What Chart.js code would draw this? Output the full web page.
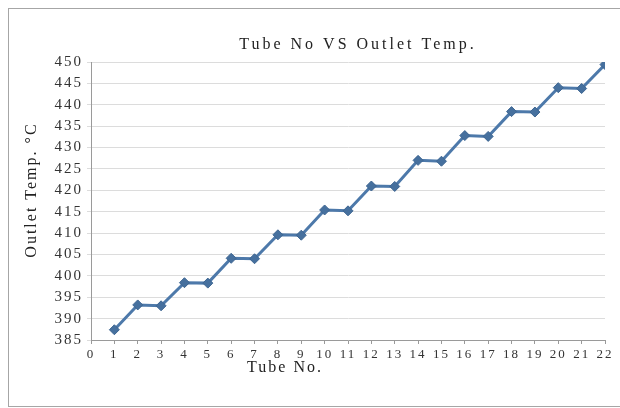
<!DOCTYPE html>
<html>
<head>
<meta charset="utf-8">
<script src="https://cdn.jsdelivr.net/npm/chart.js@4/dist/chart.umd.min.js"></script>
<style>
    html, body { margin: 0; padding: 0; background: #fff; }
    #wrap { position: relative; width: 620px; height: 408px; overflow: hidden; }
    #frame { position: absolute; left: 8px; top: 8px; width: 640px; height: 397px;
             border: 1px solid #a6a6a6; border-right: none; }
    #chart { position: absolute; left: 0; top: 0; }
</style>
</head>
<body>
<div id="wrap">
    <div id="frame"></div>
    <canvas id="chart" width="620" height="408"></canvas>
</div>
<script>
// tube numbers and outlet temperatures
const tubeNo = [1, 2, 3, 4, 5, 6, 7, 8, 9, 10, 11, 12, 13, 14, 15, 16, 17, 18, 19, 20, 21, 22];
const outletTemp = [387.4, 393.2, 393.0, 398.4, 398.3, 404.1, 404.0, 409.6, 409.5, 415.4, 415.2,
    421.0, 420.9, 427.0, 426.8, 432.8, 432.6, 438.4, 438.3, 444.0, 443.8, 449.4];

const chartTitle = "Tube No VS Outlet Temp.";
const xTitle = "Tube No.";
const yTitle = "Outlet Temp. \u00b0C";
const yMin = 385, yMax = 450, yStep = 5;
const xMin = 0, xMax = 22;

const serif = "'Liberation Serif', 'DejaVu Serif', serif";

// the original text is stretched sideways, so widen everything a little
const spacingPlugin = {
    id: "wideText",
    beforeDraw(chart) { chart.ctx.letterSpacing = "2px"; },
    afterDraw(chart) { chart.ctx.letterSpacing = "0px"; }
};

// titles drawn by hand: in the original they are not centred on the plot
const titlePlugin = {
    id: "customTitles",
    afterDraw(chart) {
        const ctx = chart.ctx;
        ctx.save();
        ctx.fillStyle = "#222";
        ctx.textAlign = "center";
        ctx.textBaseline = "middle";

        ctx.letterSpacing = "3px";
        ctx.font = "16px " + serif;
        ctx.fillText(chartTitle, 358, 45);

        ctx.letterSpacing = "2px";
        ctx.font = "16px " + serif;
        ctx.fillText(xTitle, 285, 368);

        ctx.translate(32, 190);
        ctx.rotate(-Math.PI / 2);
        ctx.fillText(yTitle, 0, 0);
        ctx.restore();
    }
};

const points = tubeNo.map((x, i) => ({ x: x, y: outletTemp[i] }));

new Chart(document.getElementById("chart").getContext("2d"), {
    type: "line",
    data: {
        datasets: [{
            label: "Outlet Temp.",
            data: points,
            borderColor: "#4d79aa",
            borderWidth: 3,
            backgroundColor: "#46709e",
            pointStyle: "rectRot",
            pointRadius: 5,
            pointBorderColor: "#3d6591",
            pointBorderWidth: 1,
            tension: 0
        }]
    },
    options: {
        responsive: false,
        animation: false,
        layout: { padding: { left: 24, right: 15, top: 62, bottom: 28 } },
        plugins: {
            legend: { display: false },
            tooltip: { enabled: false }
        },
        scales: {
            x: {
                type: "linear",
                min: xMin,
                max: xMax,
                afterFit: s => { s.height = 40; },
                ticks: {
                    stepSize: 1,
                    autoSkip: false,
                    maxRotation: 0,
                    padding: 3,
                    color: "#333",
                    font: { family: serif, size: 13 }
                },
                grid: { drawOnChartArea: false, tickLength: 4, color: "#9a9a9a" },
                border: { color: "#9a9a9a" }
            },
            y: {
                min: yMin,
                max: yMax,
                afterFit: s => { s.width = 67; },
                ticks: {
                    stepSize: yStep,
                    padding: 4,
                    color: "#333",
                    font: { family: serif, size: 15 }
                },
                grid: { color: "#dcdcdc", tickLength: 4 },
                border: { color: "#9a9a9a" }
            }
        }
    },
    plugins: [spacingPlugin, titlePlugin]
});
</script>
</body>
</html>
